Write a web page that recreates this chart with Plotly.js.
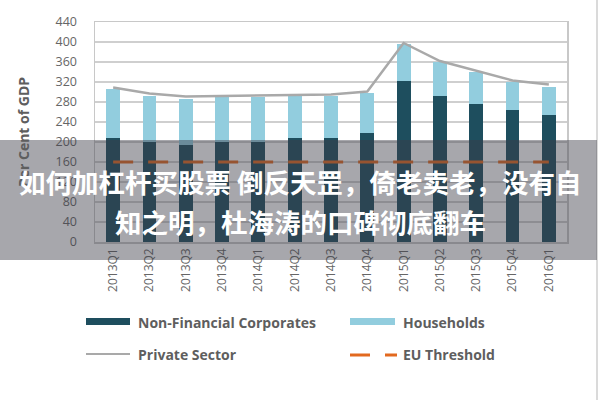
<!DOCTYPE html>
<html>
<head>
<meta charset="utf-8">
<script src="https://cdn.plot.ly/plotly-3.0.1.min.js"></script>
<style>
html,body{margin:0;padding:0;background:#fff;}
#chart{width:600px;height:400px;}
</style>
</head>
<body>
<div id="chart"></div>
<script>
// ---- data ----
var quarters = ["2013Q1","2013Q2","2013Q3","2013Q4","2014Q1","2014Q2","2014Q3","2014Q4","2015Q1","2015Q2","2015Q3","2015Q4","2016Q1"];
var nonFinancialCorporates = [209,201,195,200,200,209,209,218,323,293,277,265,255];
var households = [98,92,92,90,90,84,84,80,74,67,63,56,56];
var privateSector = [309,297,291,292,293,294,295,301,398,362,342,323,315];
var euThreshold = [160,160,160,160,160,160,160,160,160,160,160,160,160];
var yTicks = [0,40,80,120,160,200,240,280,320,360,400,440];
var legendLabels = ["Non-Financial Corporates","Households","Private Sector","EU Threshold"];
var overlayLines = ["如何加杠杆买股票 倒反天罡，倚老卖老，没有自","知之明，杜海涛的口碑彻底翻车"];

// ---- styles ----
var cDark = "#1E4E5E", cLight = "#92CDDE", cGray = "#A9A9A9", cOrange = "#E2691F";
var txt = "#666666";
var W = 600, H = 400, L = 95, R = 33, T = 22, B = 158;
var pw = W - L - R, ph = H - T - B;
function px(x){ return (x - L) / pw; }
function py(y){ return (H - B - y) / ph; }

var traces = [
  {type:"bar", x:quarters, y:nonFinancialCorporates, name:legendLabels[0], marker:{color:cDark}, showlegend:false},
  {type:"bar", x:quarters, y:households, name:legendLabels[1], marker:{color:cLight}, showlegend:false},
  {type:"scatter", mode:"lines", x:quarters, y:privateSector, name:legendLabels[2], line:{color:cGray, width:2.5}, showlegend:false},
  {type:"scatter", mode:"lines", x:quarters, y:euThreshold, name:legendLabels[3], line:{color:cOrange, width:3, dash:"20px,15px"}, showlegend:false}
];

var shapes = [
  // legend swatches
  {type:"rect", xref:"paper", yref:"paper", x0:px(86), x1:px(130), y0:py(325), y1:py(318), fillcolor:cDark, line:{width:0}},
  {type:"rect", xref:"paper", yref:"paper", x0:px(350), x1:px(395), y0:py(325), y1:py(318), fillcolor:cLight, line:{width:0}},
  {type:"line", xref:"paper", yref:"paper", x0:px(86), x1:px(130), y0:py(354), y1:py(354), line:{color:cGray, width:2}},
  {type:"line", xref:"paper", yref:"paper", x0:px(350), x1:px(370), y0:py(355), y1:py(355), line:{color:cOrange, width:3}},
  {type:"line", xref:"paper", yref:"paper", x0:px(385), x1:px(397), y0:py(355), y1:py(355), line:{color:cOrange, width:3}},
  // right image border
  {type:"line", xref:"paper", yref:"paper", x0:px(597), x1:px(597), y0:py(0), y1:py(400), line:{color:"#DADADA", width:2}},
  // gray overlay band
  {type:"rect", xref:"paper", yref:"paper", layer:"above", x0:px(0), x1:px(597), y0:py(260), y1:py(140), fillcolor:"rgba(60,60,72,0.45)", line:{width:0}}
];

var legFont = {family:"Open Sans, sans-serif", size:14, color:"#5E5E5E", weight:"bold"};
var annotations = [
  {xref:"paper", yref:"paper", x:px(136), y:py(322), text:legendLabels[0], showarrow:false, xanchor:"left", yanchor:"middle", font:legFont},
  {xref:"paper", yref:"paper", x:px(401), y:py(322), text:legendLabels[1], showarrow:false, xanchor:"left", yanchor:"middle", font:legFont},
  {xref:"paper", yref:"paper", x:px(136), y:py(354), text:legendLabels[2], showarrow:false, xanchor:"left", yanchor:"middle", font:legFont},
  {xref:"paper", yref:"paper", x:px(401), y:py(354), text:legendLabels[3], showarrow:false, xanchor:"left", yanchor:"middle", font:legFont},
  {xref:"paper", yref:"paper", x:px(300), y:py(181), text:overlayLines[0], showarrow:false, xanchor:"center", yanchor:"middle",
   font:{family:"Noto Sans CJK SC, sans-serif", size:26.5, color:"#FFFFFF", weight:"bold"}},
  {xref:"paper", yref:"paper", x:px(300), y:py(221), text:overlayLines[1], showarrow:false, xanchor:"center", yanchor:"middle",
   font:{family:"Noto Sans CJK SC, sans-serif", size:26.5, color:"#FFFFFF", weight:"bold"}}
];

var layout = {
  width:W, height:H,
  margin:{l:L, r:R, t:T, b:B, pad:0},
  paper_bgcolor:"#FFFFFF", plot_bgcolor:"#FFFFFF",
  barmode:"stack", bargap:0.62,
  showlegend:false,
  font:{family:"Open Sans, sans-serif", color:txt},
  xaxis:{type:"category", tickangle:-90, tickfont:{size:12, color:txt}, showline:true, linecolor:"#C8C8C8", linewidth:1.5, mirror:true,
         ticks:"", showgrid:false, fixedrange:true},
  yaxis:{range:[0,440], tickvals:yTicks, ticktext:yTicks.map(String), tickfont:{size:12.5, color:txt}, ticklabelstandoff:14,
         showgrid:true, gridcolor:"#CFCFCF", gridwidth:1.5, showline:true, linecolor:"#C8C8C8", linewidth:1.5, mirror:true,
         zeroline:false, ticks:"",
         title:{text:"Per Cent of GDP", font:{size:14, color:"#5E5E5E", weight:"bold"}, standoff:22}},
  shapes:shapes,
  annotations:annotations
};

Plotly.newPlot("chart", traces, layout, {staticPlot:true, displayModeBar:false});
</script>
</body>
</html>
